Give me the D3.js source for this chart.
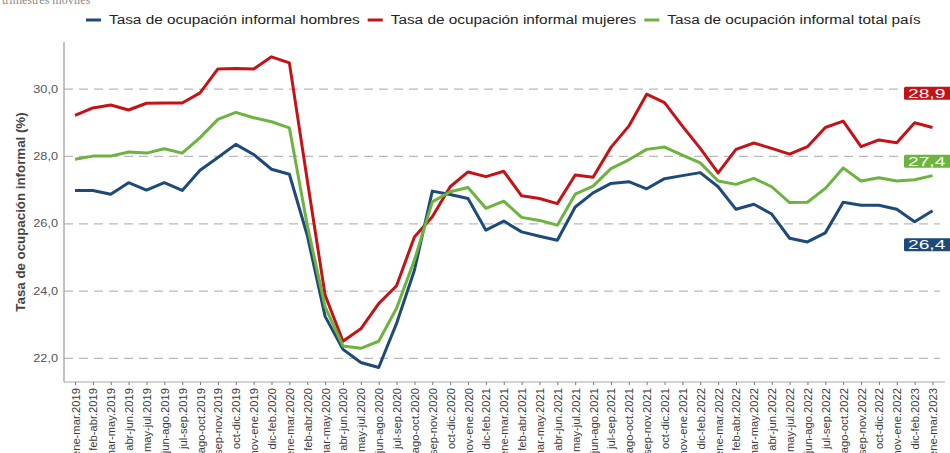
<!DOCTYPE html>
<html>
<head>
<meta charset="utf-8">
<script src="https://cdn.jsdelivr.net/npm/d3@7"></script>
<style>
  body { margin: 0; background: #fff; }
  svg { display: block; font-family: "Liberation Sans", Arial, sans-serif; }
</style>
</head>
<body>
<svg id="chart" width="950" height="453"></svg>
<script>
// trimestres moviles, ene-mar.2019 .. ene-mar.2023
const periods = [
  'ene-mar.2019','feb-abr.2019','mar-may.2019','abr-jun.2019','may-jul.2019','jun-ago.2019',
  'jul-sep.2019','ago-oct.2019','sep-nov.2019','oct-dic.2019','nov-ene.2019','dic-feb.2020',
  'ene-mar.2020','feb-abr.2020','mar-may.2020','abr-jun.2020','may-jul.2020','jun-ago.2020',
  'jul-sep.2020','ago-oct.2020','sep-nov.2020','oct-dic.2020','nov-ene.2020','dic-feb.2021',
  'ene-mar.2021','feb-abr.2021','mar-may.2021','abr-jun.2021','may-jul.2021','jun-ago.2021',
  'jul-sep.2021','ago-oct.2021','sep-nov.2021','oct-dic.2021','nov-ene.2021','dic-feb.2022',
  'ene-mar.2022','feb-abr.2022','mar-may.2022','abr-jun.2022','may-jul.2022','jun-ago.2022',
  'jul-sep.2022','ago-oct.2022','sep-nov.2022','oct-dic.2022','nov-ene.2022','dic-feb.2023',
  'ene-mar.2023'
];

const hombres = [
  26.99, 26.99, 26.88, 27.22, 27.00, 27.22, 26.99, 27.59, 27.97, 28.36, 28.06, 27.62,
  27.47, 25.66, 23.25, 22.27, 21.88, 21.73, 23.04, 24.62, 26.97, 26.87, 26.75, 25.81,
  26.08, 25.76, 25.63, 25.51, 26.50, 26.92, 27.20, 27.25, 27.04, 27.34, 27.43, 27.52,
  27.10, 26.43, 26.58, 26.29, 25.57, 25.46, 25.73, 26.64, 26.55, 26.55, 26.43, 26.06,
  26.39
];

const mujeres = [
  29.22, 29.44, 29.53, 29.38, 29.58, 29.59, 29.59, 29.89, 30.60, 30.61, 30.60, 30.96,
  30.78, 27.30, 23.88, 22.51, 22.88, 23.63, 24.16, 25.61, 26.21, 27.10, 27.54, 27.40,
  27.56, 26.83, 26.75, 26.60, 27.45, 27.38, 28.27, 28.90, 29.85, 29.60, 28.90, 28.24,
  27.51, 28.21, 28.40, 28.24, 28.07, 28.29, 28.86, 29.05, 28.29, 28.49, 28.41, 29.00,
  28.86
];

const total = [
  27.92, 28.01, 28.01, 28.13, 28.10, 28.23, 28.10, 28.56, 29.10, 29.31, 29.15, 29.03,
  28.85, 25.96, 23.53, 22.37, 22.30, 22.51, 23.49, 24.92, 26.65, 26.95, 27.08, 26.46,
  26.67, 26.19, 26.10, 25.96, 26.88, 27.12, 27.64, 27.90, 28.21, 28.28, 28.04, 27.81,
  27.27, 27.17, 27.35, 27.10, 26.63, 26.64, 27.05, 27.66, 27.27, 27.37, 27.27, 27.31,
  27.43
];

const seriesNames = [
  'Tasa de ocupación informal hombres',
  'Tasa de ocupación informal mujeres',
  'Tasa de ocupación informal total país'
];
const seriesColors = ['#1d4a78', '#c41317', '#6db33f'];
const yTicks = [22, 24, 26, 28, 30];
// how far (in % points) the end labels sit from the last value
const labelNudge = [-1.01, 1.02, 0.43];

const series = [hombres, mujeres, total].map((values, i) => ({
  name: seriesNames[i],
  color: seriesColors[i],
  nudge: labelNudge[i],
  values: values
}));

const svg = d3.select('#chart');

const x = d3.scalePoint().domain(periods).range([75, 932.5]);
const y = d3.scaleLinear().domain([21.3, 31.4]).range([382, 42]);
const fmt = v => v.toFixed(1).replace('.', ',');

// horizontal text in the picture is drawn wider than tall
const wideText = (g, px, py, sx) => g.append('text')
  .attr('transform', `translate(${px},${py}) scale(${sx},1)`);

// cut-off subtitle at the very top
svg.append('text')
  .attr('x', 2).attr('y', 4)
  .attr('font-family', '"Liberation Serif", "Times New Roman", serif')
  .attr('font-size', 12)
  .attr('fill', '#8a8a8a')
  .text('trimestres móviles');

// gridlines
svg.append('g')
  .selectAll('line')
  .data(yTicks)
  .join('line')
  .attr('x1', 64).attr('x2', 940)
  .attr('y1', d => y(d)).attr('y2', d => y(d))
  .attr('stroke', '#b9b9b9')
  .attr('stroke-width', 1.2)
  .attr('stroke-dasharray', '9,6');

// y axis
svg.append('line')
  .attr('x1', 64).attr('x2', 64)
  .attr('y1', y.range()[1]).attr('y2', y.range()[0])
  .attr('stroke', '#9a9a9a').attr('stroke-width', 1.2);

const yLab = svg.append('g');
yTicks.forEach(t => {
  wideText(yLab, 58, y(t) + 3.6, 1.27)
    .attr('text-anchor', 'end')
    .attr('font-size', 10)
    .attr('fill', '#555')
    .text(fmt(t));
});

svg.append('text')
  .attr('transform', 'translate(24.5,212) rotate(-90)')
  .attr('text-anchor', 'middle')
  .attr('font-size', 13.3)
  .attr('font-weight', 'bold')
  .attr('fill', '#444')
  .text('Tasa de ocupación informal (%)');

// x axis
const xAxis = d3.axisBottom(x).tickSize(3).tickSizeOuter(0).tickPadding(4);
const gx = svg.append('g')
  .attr('transform', 'translate(0,382)')
  .call(xAxis);
gx.select('.domain')
  .attr('d', 'M64,0H945')
  .attr('stroke', '#a8a8a8')
  .attr('stroke-width', 1.2);
gx.selectAll('.tick line').attr('stroke', '#777');
gx.selectAll('.tick text')
  .attr('font-family', '"Liberation Sans", Arial, sans-serif')
  .attr('font-size', 11.2)
  .attr('fill', '#3a3a3a')
  .attr('text-anchor', 'end')
  .attr('dy', null)
  .attr('y', 0)
  .attr('transform', 'translate(4,6) rotate(-90)');

// lines
const line = d3.line()
  .x((d, i) => x(periods[i]))
  .y(d => y(d));

const drawOrder = [1, 0, 2];
svg.append('g')
  .selectAll('path')
  .data(drawOrder.map(i => series[i]))
  .join('path')
  .attr('d', s => line(s.values))
  .attr('fill', 'none')
  .attr('stroke', s => s.color)
  .attr('stroke-width', 3)
  .attr('stroke-linejoin', 'round');

// end labels
const endLab = svg.append('g');
series.forEach(s => {
  const last = s.values[s.values.length - 1];
  const cy = y(last + s.nudge);
  endLab.append('rect')
    .attr('x', 904).attr('y', cy - 6.5)
    .attr('width', 50).attr('height', 13)
    .attr('rx', 1.5)
    .attr('fill', s.color);
  wideText(endLab, 908, cy + 4.4, 1.6)
    .attr('font-size', 12)
    .attr('fill', '#fff')
    .text(fmt(last));
});

// legend
const leg = svg.append('g');
let lx = 86;
series.forEach(s => {
  leg.append('line')
    .attr('x1', lx).attr('x2', lx + 15)
    .attr('y1', 20).attr('y2', 20)
    .attr('stroke', s.color)
    .attr('stroke-width', 3);
  const t = wideText(leg, lx + 23, 24.3, 1.28)
    .attr('font-size', 12)
    .attr('fill', '#222')
    .text(s.name);
  lx += 23 + t.node().getComputedTextLength() * 1.28 + 8;
});
</script>
</body>
</html>
